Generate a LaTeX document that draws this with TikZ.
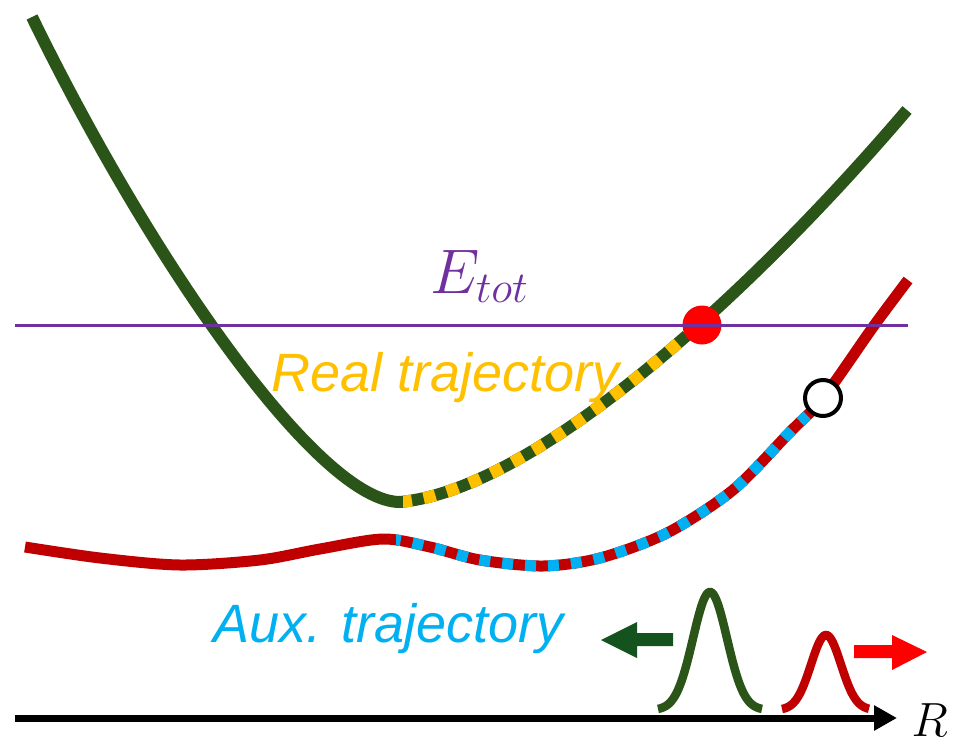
\RequirePackage{fix-cm}
\documentclass[tikz,border=0pt]{standalone}
\usepackage{fontspec}
\newfontfamily\lsans{Liberation Sans}
\usetikzlibrary{arrows.meta}
\definecolor{cgreen}{RGB}{43,84,25}
\definecolor{cred}{RGB}{192,0,0}
\definecolor{cyellow}{RGB}{255,192,0}
\definecolor{ccyan}{RGB}{0,176,240}
\definecolor{cpurple}{RGB}{112,48,160}
\definecolor{cdgreen}{RGB}{20,82,30}
\tikzset{
  greencurve/.style={cgreen, line width=12},
  redcurve/.style={cred, line width=11},
  labeltext/.style={inner sep=0, font=\lsans\itshape\fontsize{54}{60}\selectfont},
  mathlabel/.style={inner sep=0, font=\fontsize{63}{70}\selectfont},
  axislabel/.style={inner sep=0, font=\fontsize{48}{56}\selectfont},
  gauss/.style={line width=8.5},
}
\begin{document}
\begin{tikzpicture}[x=1pt,y=-1pt]
\useasboundingbox (0,0) rectangle (956,745);

% green (upper) curve
\draw[greencurve] (32,17) .. controls (154,267) and (320,502) .. (400,502)
                          .. controls (530,490) and (738,308) .. (907,110);
\begin{scope}
\clip (403,250) -- (620,250) -- (760,426) -- (760,600) -- (403,600) -- cycle;
\draw[cyellow, line width=12, dash pattern=on 12 off 12] (400,502) .. controls (530,490) and (738,308) .. (907,110);
\end{scope}

% red (lower) curve
\draw[redcurve] plot[smooth] coordinates {(25,547) (100,558) (180,565) (260,560) (320,549) (383,539) (430,547) (480,560) (543,566) (600,558) (667,533) (733,490) (790,432) (823,398) (873,327) (908,280)};
\begin{scope}
\clip (396,330) -- (725,330) -- (875,486) -- (875,620) -- (396,620) -- cycle;
\draw[ccyan, line width=11, dash pattern=on 11 off 12] plot[smooth] coordinates {(25,547) (100,558) (180,565) (260,560) (320,549) (383,539) (430,547) (480,560) (543,566) (600,558) (667,533) (733,490) (790,432) (823,398) (873,327) (908,280)};
\end{scope}

% points
\fill[red] (702,325) circle[radius=19.5];
\draw[black, line width=4, fill=white] (823,398) circle[radius=18];

% total energy line
\draw[cpurple, line width=3] (15,325) -- (908,325);
\node[mathlabel, text=cpurple, anchor=base west] (etot) at (430,293) {$E_{tot}$};

% labels
\node[labeltext, text=cyellow, anchor=base west] (real) at (271,391) {Real trajectory};
\node[labeltext, text=ccyan, anchor=base west] (aux) at (213,642) {Aux. trajectory};

% direction arrows
\fill[cdgreen] (673,633) -- (637,633) -- (637,622) -- (601,640) -- (637,658) -- (637,646) -- (673,646) -- cycle;
\fill[red] (854,645) -- (892,645) -- (892,635) -- (927,652) -- (892,670) -- (892,658) -- (854,658) -- cycle;

% axis
\draw[black, line width=7, -{Triangle[length=23pt,width=24pt]}] (15,718) -- (897,718);
\node[axislabel, anchor=base east] (rlab) at (948,736) {$R$};

% wave packets
\draw[cgreen, gauss] plot[domain=658:762, samples=80] (\x, {710-118*exp(-((\x-710)/17)^2/2)});
\draw[cred, gauss] plot[domain=782:869, samples=80] (\x, {710-75*exp(-((\x-826)/15)^2/2)});
\end{tikzpicture}
\end{document}
